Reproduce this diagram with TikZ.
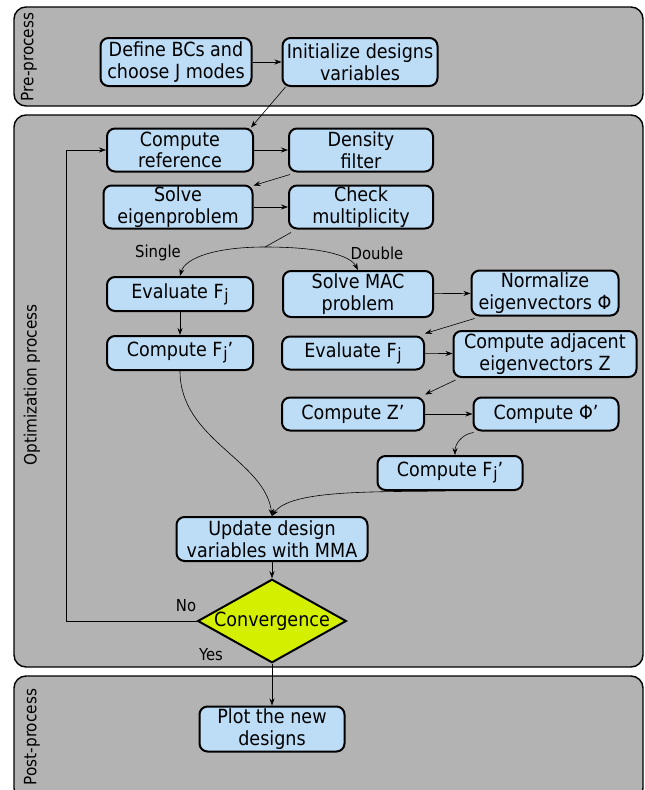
\documentclass[tikz,border=0pt]{standalone}
\usepackage{fontspec}
\setmainfont{DejaVu Sans Condensed}
\usetikzlibrary{arrows.meta,shapes.geometric}
\definecolor{panelgray}{HTML}{B3B3B3}
\definecolor{nodeblue}{HTML}{BDDCF5}
\definecolor{convyellow}{HTML}{D4F000}
\newcommand{\Fj}{F\kern0.8pt\raisebox{-3pt}{\fontsize{17}{17}\selectfont j}}
\newcommand{\apos}{\symbol{"27}}
\tikzset{
  panel/.style={draw, line width=1.4pt, rounded corners=12pt, fill=panelgray},
  box/.style={draw, line width=2pt, rounded corners=8pt, fill=nodeblue, align=center, inner sep=0pt, font=\fontsize{19.5}{21.5}\selectfont},
  lab/.style={font=\fontsize{17}{19}\selectfont, rotate=90},
  small/.style={font=\fontsize{16.5}{18}\selectfont},
  conn/.style={-{Stealth[length=7pt,width=5pt]}, line width=0.6pt},
}
\begin{document}
\begin{tikzpicture}[x=1pt,y=-1pt]
\useasboundingbox (0,0) rectangle (645,790);
% panels
\draw[panel] (14,7) rectangle (643,106);
\draw[panel] (14,115) rectangle (643,667);
\draw[panel] (14,676) rectangle (643,800);
\node[lab] (lpre) at (29,57) {Pre-process};
\node[lab] (lopt) at (32,385) {Optimization process};
\node[lab] (lpost) at (32,737) {Post-process};
% nodes
\node[box, minimum width=151, minimum height=48] (def) at (176,62) {Define BCs and\\choose J modes};
\node[box, minimum width=155, minimum height=48] (init) at (360,62) {Initialize designs\\variables};
\node[box, minimum width=146, minimum height=43] (cref) at (180,150) {Compute\\reference};
\node[box, minimum width=144, minimum height=43] (dens) at (361,150) {Density\\filter};
\node[box, minimum width=149, minimum height=43] (solve) at (178,207) {Solve\\eigenproblem};
\node[box, minimum width=144, minimum height=43] (check) at (361,207) {Check\\multiplicity};
\node[box, minimum width=146, minimum height=34] (evalL) at (180,294) {Evaluate \Fj};
\node[box, minimum width=146, minimum height=34] (fjL) at (180,353) {Compute \Fj\apos};
\node[box, minimum width=150, minimum height=46] (mac) at (358,294) {Solve MAC\\problem};
\node[box, minimum width=147, minimum height=45] (norm) at (545,293) {Normalize\\eigenvectors Φ};
\node[box, minimum width=142, minimum height=33] (evalR) at (353,353) {Evaluate \Fj};
\node[box, minimum width=183, minimum height=46] (adj) at (545,354) {Compute adjacent\\eigenvectors Z};
\node[box, minimum width=142, minimum height=33] (zp) at (353,414) {Compute Z\apos};
\node[box, minimum width=145, minimum height=33] (phip) at (546,414) {Compute Φ\apos};
\node[box, minimum width=145, minimum height=34] (fjR) at (450,473) {Compute \Fj\apos};
\node[box, minimum width=191, minimum height=44] (upd) at (272,539) {Update design\\variables with MMA};
\node[draw, line width=2pt, fill=convyellow, diamond, aspect=1.78, minimum width=148, minimum height=83, inner sep=0pt, font=\fontsize{19.5}{21.5}\selectfont] (conv) at (272,621) {Convergence};
\node[box, minimum width=145, minimum height=45] (plot) at (272,729) {Plot the new\\designs};
% labels
\node[small] (single) at (158,253) {Single};
\node[small] (double) at (377,253) {Double};
\node[small] (no) at (186,606) {No};
\node[small] (yes) at (211,655) {Yes};
% connectors
\draw[conn] (def) -- (init);
\draw[conn] ([xshift=4]init.south west) -- ([xshift=-3]cref.north east);
\draw[conn] (cref) -- (dens);
\draw[conn] ([xshift=2,yshift=-2]dens.south west) -- ([yshift=-1]solve.north east);
\draw[conn] (solve) -- (check);
\coordinate (split) at (265,247);
\draw[line width=0.6pt] ([xshift=3,yshift=-3]check.south west) -- (split);
\draw[conn] (split) .. controls (215,247) and (185,258) .. (evalL.north);
\draw[conn] (split) .. controls (320,247) and (350,255) .. (mac.north);
\draw[conn] (evalL) -- (fjL);
\draw[conn] (mac) -- (norm);
\draw[conn] ([xshift=4,yshift=-2]norm.south west) -- ([yshift=2]evalR.north east);
\draw[conn] (evalR) -- (adj);
\draw[conn] ([xshift=3,yshift=-2]adj.south west) -- ([yshift=2]zp.north east);
\draw[conn] (zp) -- (phip);
\draw[conn] ([xshift=1,yshift=-1]phip.south west) .. controls (462,434) and (455,444) .. ([xshift=5]fjR.north);
\draw[conn] (fjL.south) .. controls (180,440) and (265,460) .. (upd.north);
\draw[conn] ([xshift=-5]fjR.south) .. controls (370,492) and (290,490) .. (upd.north);
\draw[conn] (upd) -- (conv);
\draw[conn] (conv) -- (plot);
\draw[conn, line width=0.5pt] (conv.west) -- (66,621) -- (66,150) -- (cref.west);
\end{tikzpicture}
\end{document}
